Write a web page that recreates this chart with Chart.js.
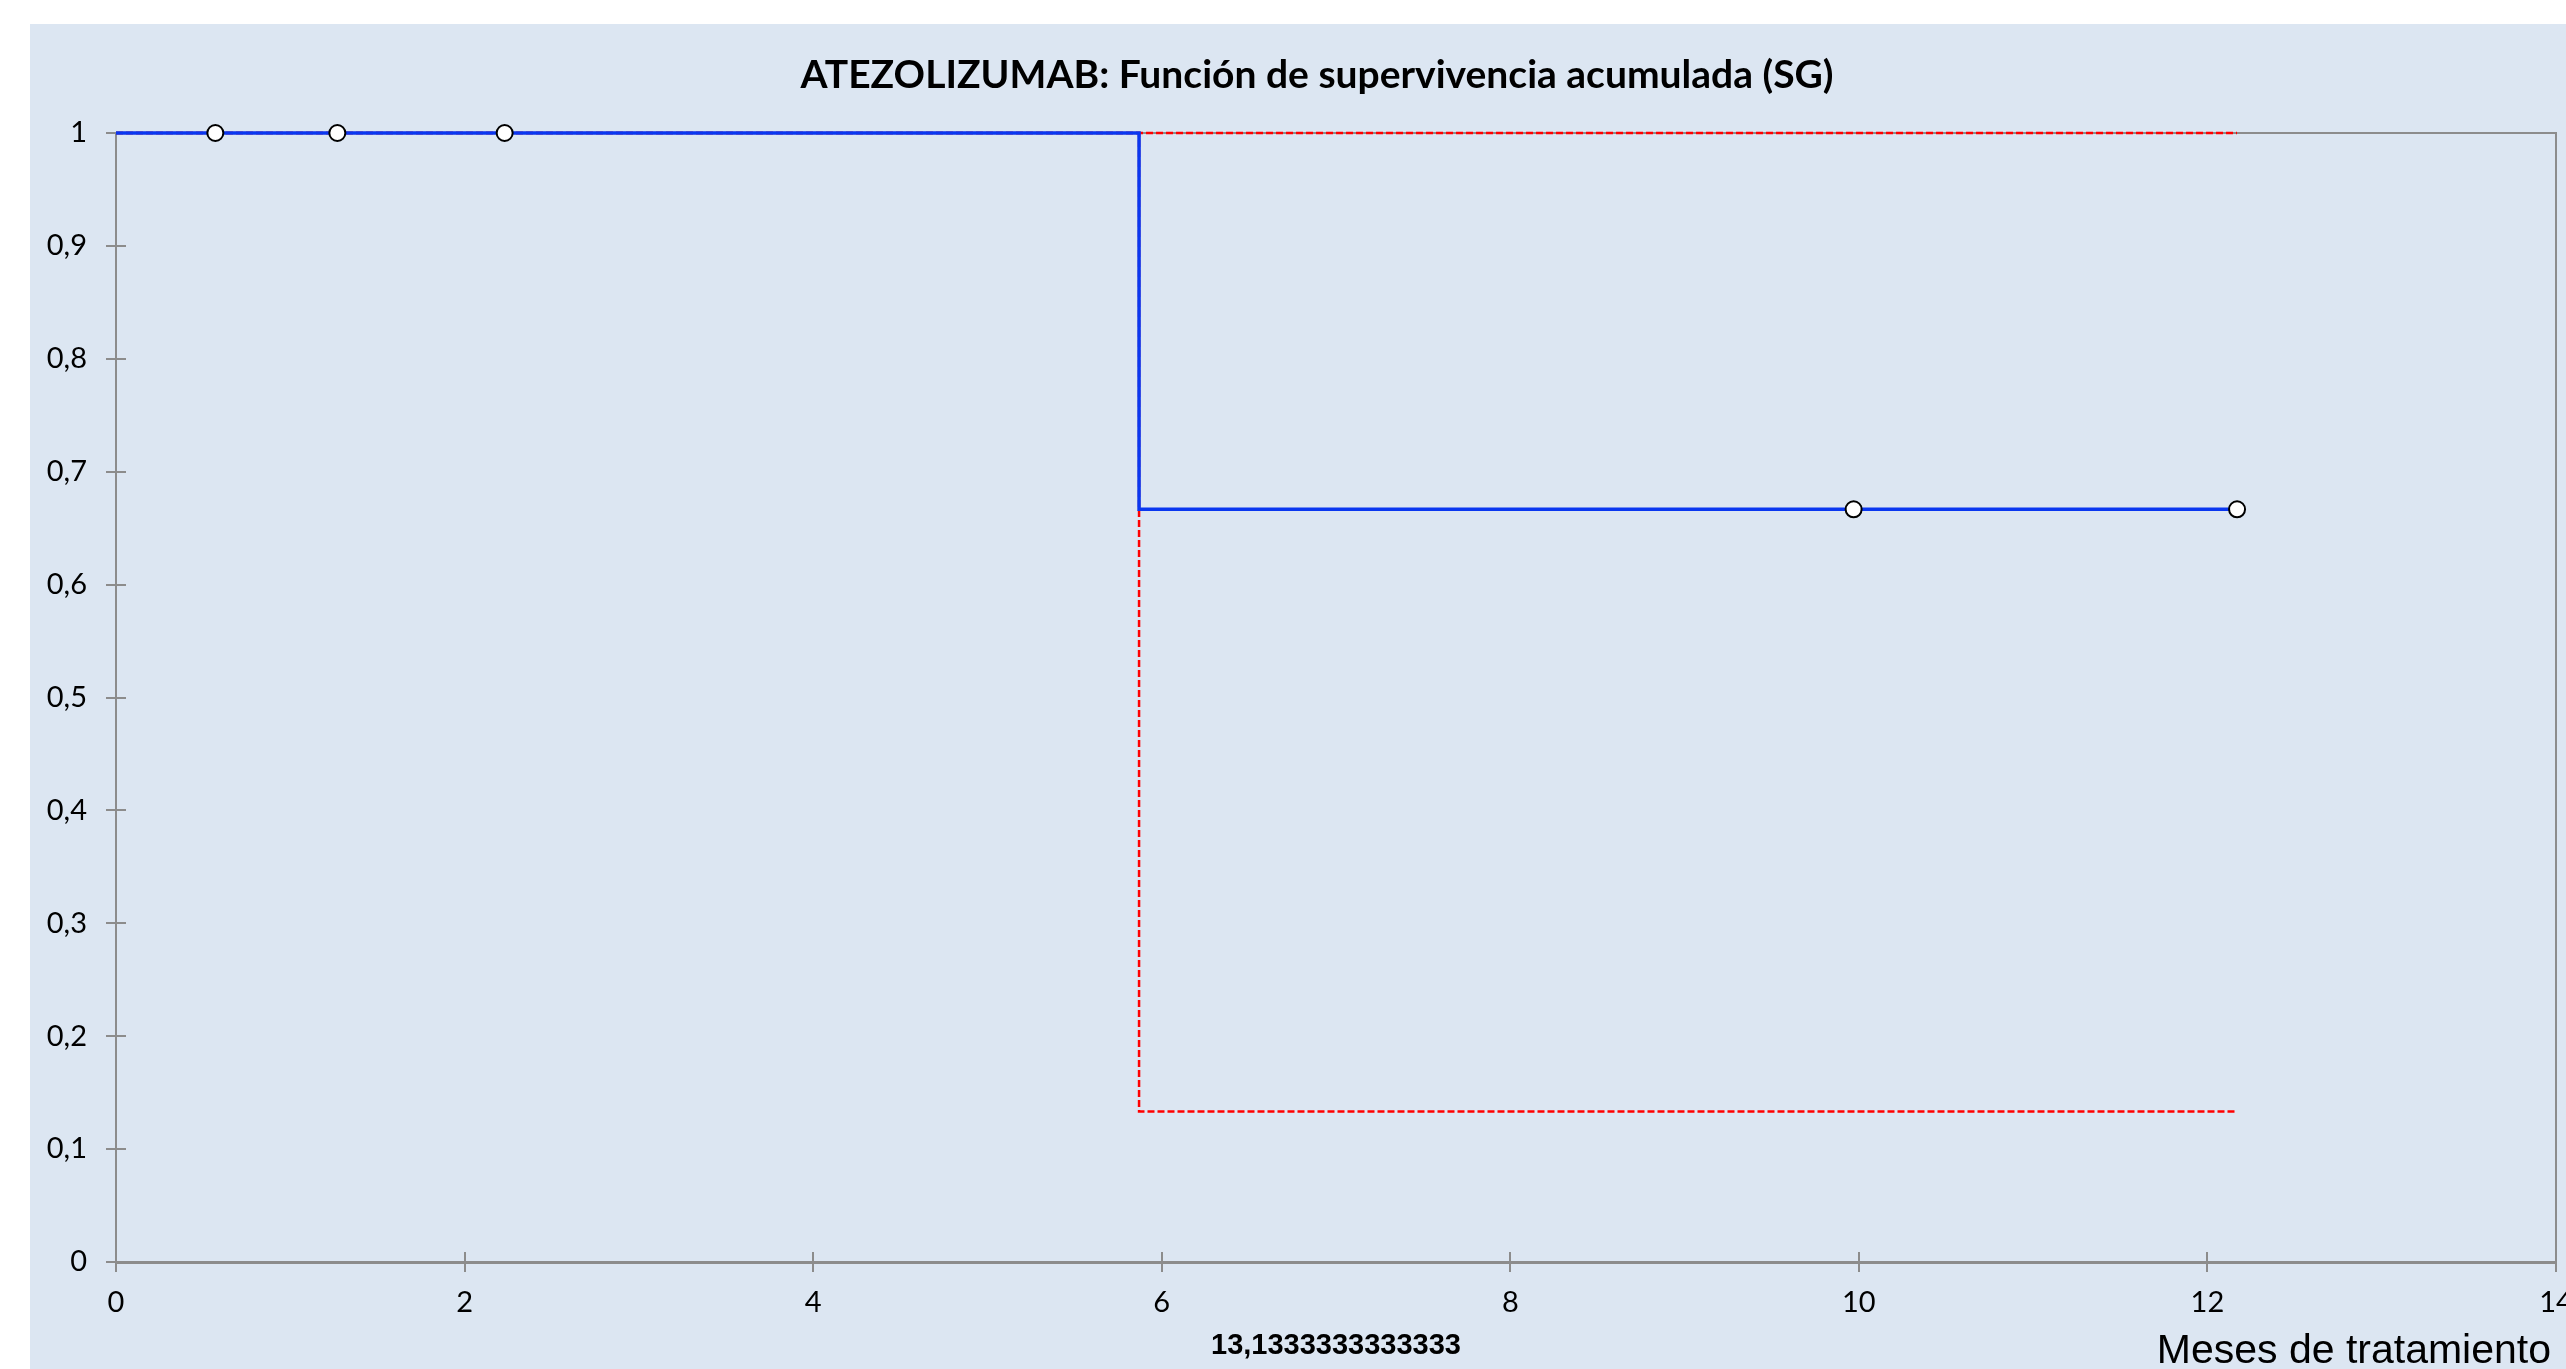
<!DOCTYPE html>
<html>
<head>
<meta charset="utf-8">
<script src="https://cdn.jsdelivr.net/npm/chart.js@4.4.1/dist/chart.umd.min.js"></script>
<style>
  html, body { margin: 0; padding: 0; background: #ffffff; }
  #wrap { position: absolute; left: 30px; top: 24px; width: 2536px; height: 1345px; background: #dce6f2; }
</style>
</head>
<body>
<div id="wrap"><canvas id="km"></canvas></div>
<script>
  // Kaplan-Meier estimate and its confidence band (months, cumulative survival)
  const kmTimes = [0, 5.87, 12.17];
  const kmSurv = [1, 0.6667, 0.6667];
  const upperTimes = [0, 5.87, 12.17];
  const upperSurv = [1, 1, 1];
  const lowerTimes = [0, 5.87, 12.17];
  const lowerSurv = [1, 0.1333, 0.1333];

  // censored patients
  const censorTimes = [0.57, 1.27, 2.23, 9.97, 12.17];
  const censorSurv = [1, 1, 1, 0.6667, 0.6667];

  const xTickValues = [0, 2, 4, 6, 8, 10, 12, 14];
  const yTickValues = [0, 0.1, 0.2, 0.3, 0.4, 0.5, 0.6, 0.7, 0.8, 0.9, 1];

  const chartTitle = "ATEZOLIZUMAB: Función de supervivencia acumulada (SG)";
  const xAxisTitle = "13,1333333333333";
  const xCaption = "Meses de tratamiento";

  const toPoints = (xs, ys) => xs.map((x, i) => ({ x: x, y: ys[i] }));
  const axisGrey = "#8c8c8c";

  // box around plot area, inner half of the tick marks, title and caption text
  const frame = {
    id: "frame",
    beforeDatasetsDraw(chart) {
      const { ctx, chartArea: a, scales: { x, y } } = chart;
      ctx.save();
      ctx.strokeStyle = axisGrey;
      ctx.lineWidth = 2;
      ctx.beginPath();
      ctx.moveTo(a.left, a.top);
      ctx.lineTo(a.right, a.top);
      ctx.lineTo(a.right, a.bottom);
      x.ticks.forEach(t => {
        const px = Math.round(x.getPixelForValue(t.value));
        ctx.moveTo(px, a.bottom);
        ctx.lineTo(px, a.bottom - 10);
      });
      y.ticks.forEach(t => {
        const py = Math.round(y.getPixelForValue(t.value));
        ctx.moveTo(a.left, py);
        ctx.lineTo(a.left + 10, py);
      });
      ctx.stroke();
      ctx.restore();
    },
    afterDraw(chart) {
      const { ctx, chartArea: a } = chart;
      ctx.save();
      ctx.fillStyle = "#000000";
      ctx.textBaseline = "middle";
      ctx.textAlign = "center";
      ctx.font = "bold 39px Lato, 'Open Sans', sans-serif";
      ctx.fillText(chartTitle, 1287, 51);
      ctx.font = "41px 'Liberation Sans', Arial, sans-serif";
      ctx.textAlign = "right";
      ctx.fillText(xCaption, a.right - 5, 1328);
      ctx.restore();
    }
  };

  // first dataset is painted last (on top)
  new Chart(document.getElementById("km"), {
    type: "scatter",
    data: {
      datasets: [
        {
          label: "Censurados",
          data: toPoints(censorTimes, censorSurv),
          showLine: false,
          pointRadius: 8,
          pointBackgroundColor: "#ffffff",
          pointBorderColor: "#000000",
          pointBorderWidth: 2,
          clip: false
        },
        {
          label: "SG",
          data: toPoints(kmTimes, kmSurv),
          showLine: true,
          stepped: "before",
          borderColor: "#0a37f0",
          borderWidth: 3.5,
          pointRadius: 0,
          clip: false
        },
        {
          label: "IC superior",
          data: toPoints(upperTimes, upperSurv),
          showLine: true,
          stepped: "before",
          borderColor: "#ff0000",
          borderWidth: 2.5,
          borderDash: [7, 3],
          pointRadius: 0,
          clip: false
        },
        {
          label: "IC inferior",
          data: toPoints(lowerTimes, lowerSurv),
          showLine: true,
          stepped: "before",
          borderColor: "#ff0000",
          borderWidth: 2.5,
          borderDash: [7, 3],
          pointRadius: 0,
          clip: false
        }
      ]
    },
    options: {
      responsive: true,
      maintainAspectRatio: false,
      animation: false,
      layout: { padding: { left: 0, right: 8, top: 109, bottom: 0 } },
      plugins: {
        legend: { display: false },
        tooltip: { enabled: false },
        title: { display: false }
      },
      scales: {
        x: {
          type: "linear",
          min: 0,
          max: 14,
          afterBuildTicks: s => { s.ticks = xTickValues.map(v => ({ value: v })); },
          afterFit: s => { s.height = 107; s.paddingLeft = 0; s.paddingRight = 0; },
          ticks: {
            color: "#000000",
            font: { family: "Lato, sans-serif", size: 29 },
            padding: 13,
            maxRotation: 0,
            autoSkip: false
          },
          grid: { drawOnChartArea: false, color: axisGrey, lineWidth: 2, tickLength: 10 },
          border: { color: axisGrey, width: 3 },
          title: {
            display: true,
            text: xAxisTitle,
            color: "#000000",
            font: { family: "'Liberation Sans', Arial, sans-serif", size: 29, weight: "bold", lineHeight: 1 },
            padding: { top: 0, bottom: 9 }
          }
        },
        y: {
          type: "linear",
          min: 0,
          max: 1,
          afterBuildTicks: s => { s.ticks = yTickValues.map(v => ({ value: v })); },
          afterFit: s => { s.width = 86; s.paddingTop = 0; s.paddingBottom = 0; },
          ticks: {
            color: "#000000",
            font: { family: "Lato, sans-serif", size: 29 },
            padding: 19,
            callback: v => String(Math.round(v * 10) / 10).replace(".", ",")
          },
          grid: { drawOnChartArea: false, color: axisGrey, lineWidth: 2, tickLength: 10 },
          border: { color: axisGrey, width: 2 }
        }
      }
    },
    plugins: [frame]
  });
</script>
</body>
</html>
